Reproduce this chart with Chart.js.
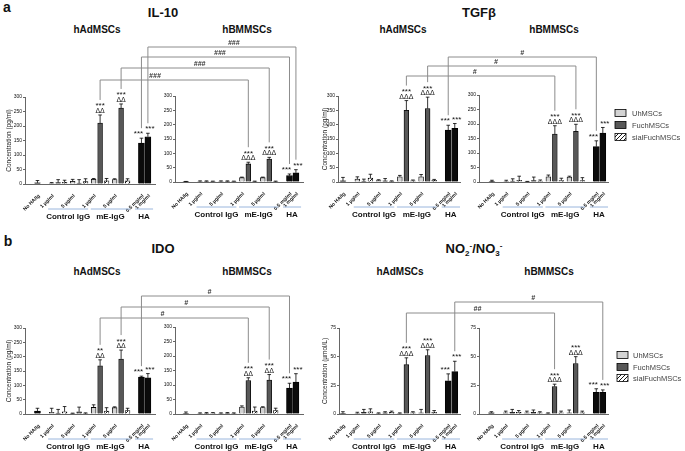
<!DOCTYPE html>
<html><head><meta charset="utf-8">
<script src="https://cdn.jsdelivr.net/npm/chart.js@4.4.1/dist/chart.umd.min.js"></script>
<style>
html,body{margin:0;padding:0;background:#fff;}
body{width:685px;height:451px;position:relative;overflow:hidden;font-family:"Liberation Sans",Arial,sans-serif;}
canvas.c{position:absolute;}
#ov{position:absolute;left:0;top:0;z-index:5;pointer-events:none;}
.t{position:absolute;font-weight:bold;color:#111;white-space:nowrap;transform:translate(-50%,-50%);line-height:1;}
</style></head><body>
<div class="t" style="left:7px;top:7px;font-size:14px">a</div>
<div class="t" style="left:8px;top:241px;font-size:14px">b</div>
<div class="t" style="left:163px;top:12px;font-size:13px">IL-10</div>
<div class="t" style="left:479px;top:12px;font-size:13px">TGFβ</div>
<div class="t" style="left:97px;top:30px;font-size:10px">hAdMSCs</div>
<div class="t" style="left:247px;top:30px;font-size:10px">hBMMSCs</div>
<div class="t" style="left:403px;top:30px;font-size:10px">hAdMSCs</div>
<div class="t" style="left:554px;top:30px;font-size:10px">hBMMSCs</div>
<div class="t" style="left:163px;top:248px;font-size:13px">IDO</div>
<div class="t" style="left:474px;top:250px;font-size:13px">NO<sub style="font-size:8px">2</sub><sup style="font-size:8px">-</sup>/NO<sub style="font-size:8px">3</sub><sup style="font-size:8px">-</sup></div>
<div class="t" style="left:97px;top:272px;font-size:10px">hAdMSCs</div>
<div class="t" style="left:247px;top:272px;font-size:10px">hBMMSCs</div>
<div class="t" style="left:400px;top:272px;font-size:10px">hAdMSCs</div>
<div class="t" style="left:549px;top:272px;font-size:10px">hBMMSCs</div>
<canvas id="ov" width="685" height="451"></canvas>
<script>
// ---------- DATA ----------
const tickLabels = ['No HA/Ig','1 µg/ml','5 µg/ml','1 µg/ml','5 µg/ml','0.5 mg/ml','1 mg/ml'];
const groupNames = ['Control IgG','mE-IgG','HA'];
const seriesNames = ['UhMSCs','FuchMSCs','sialFuchMSCs'];
// U/F/S order: [Control 1 µg/ml, Control 5 µg/ml, mE-IgG 1 µg/ml, mE-IgG 5 µg/ml]
// K (black) order: [No HA/Ig, HA 0.5 mg/ml, HA 1 mg/ml]
const il10Ad_U = [3, 9, 16, 15],      il10Ad_Ue = [2, 7, 3, 3];
const il10Ad_F = [5, 3, 210, 262],    il10Ad_Fe = [10, 12, 28, 14];
const il10Ad_S = [6, 8, 11, 11],      il10Ad_Se = [7, 10, 8, 7];
const il10Ad_K = [4, 141, 163],       il10Ad_Ke = [8, 17, 12];

const il10Bm_U = [2, 2, 15, 15],      il10Bm_Ue = [2, 2, 2, 2];
const il10Bm_F = [2, 2, 63, 80],      il10Bm_Fe = [2, 2, 6, 6];
const il10Bm_S = [2, 2, 2, 2],        il10Bm_Se = [1, 1, 1, 1];
const il10Bm_K = [1, 22, 32],         il10Bm_Ke = [1, 6, 11];

const tgfAd_U = [10, 5, 18, 18],      tgfAd_Ue = [8, 3, 5, 8];
const tgfAd_F = [3, 4, 250, 256],     tgfAd_Fe = [7, 8, 34, 40];
const tgfAd_S = [14, 2, 4, 6],        tgfAd_Se = [13, 2, 3, 3];
const tgfAd_K = [4, 181, 187],        tgfAd_Ke = [12, 17, 17];

const tgfBm_U = [2, 1, 18, 17],       tgfBm_Ue = [4, 1, 6, 3];
const tgfBm_F = [3, 5, 165, 175],     tgfBm_Fe = [8, 12, 29, 24];
const tgfBm_S = [6, 3, 5, 5],         tgfBm_Se = [14, 4, 8, 10];
const tgfBm_K = [1, 122, 169],        tgfBm_Ke = [5, 20, 19];

const idoAd_U = [6, 2, 23, 22],       idoAd_Ue = [14, 1, 9, 3];
const idoAd_F = [3, 8, 168, 192],     idoAd_Fe = [13, 16, 21, 31];
const idoAd_S = [8, 2, 10, 12],       idoAd_Se = [18, 2, 12, 8];
const idoAd_K = [10, 129, 126],       idoAd_Ke = [10, 3, 15];

const idoBm_U = [2, 2, 24, 22],       idoBm_Ue = [2, 2, 4, 3];
const idoBm_F = [2, 3, 115, 117],     idoBm_Fe = [3, 2, 10, 19];
const idoBm_S = [3, 2, 10, 12],       idoBm_Se = [2, 2, 14, 8];
const idoBm_K = [2, 89, 110],         idoBm_Ke = [5, 17, 29];

const noAd_U = [0.5, 0.5, 0.5, 1],    noAd_Ue = [1, 0.5, 0.5, 3];
const noAd_F = [1.5, 1, 43, 51],      noAd_Fe = [2.5, 1, 6, 5];
const noAd_S = [2, 1.5, 1, 1.5],      noAd_Se = [2.5, 1, 1, 1.5];
const noAd_K = [0.5, 29, 37],         noAd_Ke = [1.5, 6, 9];

const noBm_U = [1, 1, 0.5, 1],        noBm_Ue = [1.5, 1.5, 0.5, 2.5];
const noBm_F = [1.5, 1.5, 24, 44],    noBm_Fe = [2.5, 2, 2, 6];
const noBm_S = [1.5, 1, 1, 1],        noBm_Se = [1.5, 1, 1.5, 1.5];
const noBm_K = [1, 19, 19],           noBm_Ke = [1, 3, 2];

// ---------- LAYOUT ----------
const FONT = '"Liberation Sans", Arial, sans-serif';
const G0 = 2.2, GSTEP = 3.25, HA0 = 16.1;
const uPos = [0,1,2,3].map(g => G0 + g*GSTEP);
const fPos = uPos.map(v => v + 1);
const sPos = uPos.map(v => v + 2);
const kPos = [0, HA0, HA0 + 1];
const tickPos = [kPos[0], uPos[0], uPos[1], uPos[2], uPos[3], kPos[1], kPos[2]].map(v => v + 0.25);
const groupSpans = [[uPos[0]-0.55, sPos[1]+0.4], [uPos[2]-0.45, sPos[3]+0.4], [kPos[1]-1.0, kPos[2]+0.8]];

const M2 = (d) => [{ds:1,i:2,lines:['***',d]},{ds:1,i:3,lines:['***',d]},{ds:3,i:1,lines:['***'],dx:-3},{ds:3,i:2,lines:['***'],dx:2}];
const panels = [
 {L:25,R:155,T:97,B:184,xmin:-1.93,xmax:18.2,ymax:300,step:50,yW:20,yt:'Concentration (pg/ml)',
  U:il10Ad_U,Ue:il10Ad_Ue,F:il10Ad_F,Fe:il10Ad_Fe,S:il10Ad_S,Se:il10Ad_Se,K:il10Ad_K,Ke:il10Ad_Ke,marks:M2('ΔΔ')},
 {L:175,R:303,T:96,B:182,xmin:-1.7,xmax:18.2,ymax:300,step:50,yW:12,yt:'',
  U:il10Bm_U,Ue:il10Bm_Ue,F:il10Bm_F,Fe:il10Bm_Fe,S:il10Bm_S,Se:il10Bm_Se,K:il10Bm_K,Ke:il10Bm_Ke,marks:M2('ΔΔΔ')},
 {L:338,R:460,T:96,B:182,xmin:-0.76,xmax:17.9,ymax:300,step:50,yW:17,yt:'Concentration (pg/ml)',
  U:tgfAd_U,Ue:tgfAd_Ue,F:tgfAd_F,Fe:tgfAd_Fe,S:tgfAd_S,Se:tgfAd_Se,K:tgfAd_K,Ke:tgfAd_Ke,marks:M2('ΔΔΔ')},
 {L:479,R:608,T:95,B:182,xmin:-2.0,xmax:17.9,ymax:300,step:50,yW:12,yt:'',
  U:tgfBm_U,Ue:tgfBm_Ue,F:tgfBm_F,Fe:tgfBm_Fe,S:tgfBm_S,Se:tgfBm_Se,K:tgfBm_K,Ke:tgfBm_Ke,marks:M2('ΔΔΔ')},
 {L:25,R:155,T:328,B:414,xmin:-1.93,xmax:18.2,ymax:300,step:50,yW:20,yt:'Concentration (pg/ml)',
  U:idoAd_U,Ue:idoAd_Ue,F:idoAd_F,Fe:idoAd_Fe,S:idoAd_S,Se:idoAd_Se,K:idoAd_K,Ke:idoAd_Ke,
  marks:[{ds:1,i:2,lines:['**','ΔΔ']},{ds:1,i:3,lines:['***','ΔΔ']},{ds:3,i:1,lines:['***'],dx:-3},{ds:3,i:2,lines:['***'],dx:2}]},
 {L:175,R:303,T:327,B:414,xmin:-1.7,xmax:18.2,ymax:300,step:50,yW:12,yt:'',
  U:idoBm_U,Ue:idoBm_Ue,F:idoBm_F,Fe:idoBm_Fe,S:idoBm_S,Se:idoBm_Se,K:idoBm_K,Ke:idoBm_Ke,marks:M2('ΔΔ')},
 {L:339,R:460,T:328,B:414,xmin:-0.6,xmax:17.9,ymax:75,step:25,yW:18,yt:'Concentration (µmol/L)',
  U:noAd_U,Ue:noAd_Ue,F:noAd_F,Fe:noAd_Fe,S:noAd_S,Se:noAd_Se,K:noAd_K,Ke:noAd_Ke,marks:M2('ΔΔΔ')},
 {L:479,R:608,T:328,B:414,xmin:-1.9,xmax:17.9,ymax:75,step:25,yW:12,yt:'',
  U:noBm_U,Ue:noBm_Ue,F:noBm_F,Fe:noBm_Fe,S:noBm_S,Se:noBm_Se,K:noBm_K,Ke:noBm_Ke,marks:M2('ΔΔΔ')}
];

const brackets = [
 {a:0,b:1,key:'F1',y:80,label:'###',f:0.37},
 {a:0,b:1,key:'F5',y:68,label:'###',f:0.53},
 {a:0,b:1,key:'HA05',y:57,label:'###',f:0.53},
 {a:0,b:1,key:'HA1',y:47,label:'###',f:0.58},
 {a:2,b:3,key:'F1',y:76,label:'#',f:0.46},
 {a:2,b:3,key:'F5',y:66,label:'#',f:0.46},
 {a:2,b:3,key:'HA05',y:57,label:'#',f:0.5},
 {a:4,b:5,key:'F1',y:318,label:'#',f:0.42},
 {a:4,b:5,key:'F5',y:307,label:'#',f:0.44},
 {a:4,b:5,key:'HA05',y:296,label:'#',f:0.46},
 {a:6,b:7,key:'F1',y:313,label:'##',f:0.48},
 {a:6,b:7,key:'HA1',y:302,label:'#',f:0.53}
];
const keyMap = {F1:[1,2], F5:[1,3], HA05:[3,1], HA1:[3,2]};

function hatchCanvas(){
  const c = document.createElement('canvas'); c.width = 4; c.height = 4;
  const g = c.getContext('2d');
  g.fillStyle = '#fff'; g.fillRect(0,0,4,4);
  g.strokeStyle = '#000'; g.lineWidth = 0.9;
  g.beginPath(); g.moveTo(0,4); g.lineTo(4,0); g.moveTo(-1,1); g.lineTo(1,-1); g.moveTo(3,5); g.lineTo(5,3); g.stroke();
  return c;
}
const HATCH = hatchCanvas();
const COLORS = {U:'#d3d3d3', F:'#585858', K:'#0b0b0b'};

const decor = {
  id:'decor',
  afterDatasetsDraw(chart){
    const ctx = chart.ctx, xs = chart.scales.x, ys = chart.scales.y;
    ctx.save(); ctx.strokeStyle = '#000'; ctx.lineWidth = 0.8;
    chart.data.datasets.forEach(ds => {
      ds.data.forEach((pt, i) => {
        const x = xs.getPixelForValue(pt.x);
        const y0 = ys.getPixelForValue(pt.y), y1 = ys.getPixelForValue(pt.y + ds.errors[i]);
        ctx.beginPath(); ctx.moveTo(x, y0); ctx.lineTo(x, y1);
        ctx.moveTo(x - 1.8, y1); ctx.lineTo(x + 1.8, y1); ctx.stroke();
      });
    });
    ctx.restore();
  },
  afterDraw(chart, args, opts){
    const ctx = chart.ctx, xs = chart.scales.x, ys = chart.scales.y;
    ctx.save();
    ctx.fillStyle = '#111'; ctx.textAlign = 'center'; ctx.textBaseline = 'alphabetic';
    (opts.marks || []).forEach(m => {
      const ds = chart.data.datasets[m.ds], pt = ds.data[m.i];
      const x = xs.getPixelForValue(pt.x) + (m.dx || 0);
      const yTop = ys.getPixelForValue(pt.y + ds.errors[m.i]);
      if (m.lines.length === 2) {
        ctx.font = '7px ' + FONT; ctx.fillText(m.lines[1], x, yTop - 2);
        ctx.font = '8px ' + FONT; ctx.fillText(m.lines[0], x, yTop - 6.5);
      } else {
        ctx.font = '8px ' + FONT; ctx.fillText(m.lines[0], x, yTop - 1.8);
      }
    });
    const yb = chart.chartArea.bottom;
    groupSpans.forEach((sp, gi) => {
      const x1 = xs.getPixelForValue(sp[0]), x2 = xs.getPixelForValue(sp[1]);
      ctx.strokeStyle = '#9ab6dd'; ctx.lineWidth = 1;
      ctx.beginPath(); ctx.moveTo(x1, yb + 25); ctx.lineTo(x2, yb + 25); ctx.stroke();
      ctx.fillStyle = '#111'; ctx.font = 'bold 8px ' + FONT; ctx.textBaseline = 'middle';
      ctx.fillText(groupNames[gi], (x1 + x2) / 2, yb + 32.5);
    });
    ctx.restore();
  }
};

const xy = (pos, vals) => vals.map((v, i) => ({x: pos[i], y: v}));
const PADT = 26, PADR = 10, XH = 40;
const charts = panels.map(p => {
  const cv = document.createElement('canvas');
  cv.className = 'c';
  p.cx = p.L - p.yW; p.cy = p.T - PADT;
  const w = p.R - p.L + p.yW + PADR, h = p.B - p.T + PADT + XH;
  cv.width = w; cv.height = h;
  cv.style.left = p.cx + 'px'; cv.style.top = p.cy + 'px';
  cv.style.width = w + 'px'; cv.style.height = h + 'px';
  document.body.appendChild(cv);
  const pat = cv.getContext('2d').createPattern(HATCH, 'repeat');
  const base = {borderColor:'#000', borderWidth:0.8, grouped:false, barThickness:4.8};
  return new Chart(cv, {
    type:'bar',
    plugins:[decor],
    data:{datasets:[
      Object.assign({label:seriesNames[0], data:xy(uPos, p.U), errors:p.Ue, backgroundColor:COLORS.U}, base),
      Object.assign({label:seriesNames[1], data:xy(fPos, p.F), errors:p.Fe, backgroundColor:COLORS.F}, base),
      Object.assign({label:seriesNames[2], data:xy(sPos, p.S), errors:p.Se, backgroundColor:pat}, base),
      Object.assign({}, base, {label:'HA', data:xy(kPos, p.K), errors:p.Ke, backgroundColor:COLORS.K, barThickness:6})
    ]},
    options:{
      responsive:false, animation:false, devicePixelRatio:1,
      layout:{padding:{top:PADT, right:PADR, left:0, bottom:0}, autoPadding:false},
      plugins:{legend:{display:false}, tooltip:{enabled:false}, decor:{marks:p.marks}},
      scales:{
        x:{type:'linear', min:p.xmin, max:p.xmax, offset:false,
           grid:{display:false}, border:{display:true, color:'#666', width:1},
           afterBuildTicks:a => { a.ticks = tickPos.map(v => ({value:v})); },
           afterFit:s => { s.height = XH; s.paddingLeft = 0; s.paddingRight = 0; },
           ticks:{autoSkip:false, minRotation:45, maxRotation:45, padding:1,
                  font:{size:5, family:FONT, weight:'bold'}, color:'#111', callback:(v, i) => tickLabels[i]}},
        y:{min:0, max:p.ymax,
           ticks:{stepSize:p.step, font:{size:5, family:FONT}, color:'#111', padding:1},
           grid:{drawOnChartArea:false, drawTicks:true, tickLength:2, color:'#666'},
           border:{display:true, color:'#666', width:1},
           title:{display:!!p.yt, text:p.yt, font:{size:6.5, family:FONT}, padding:0, color:'#222'},
           afterFit:s => { s.width = p.yW; s.paddingTop = 0; s.paddingBottom = 0; }}
      }
    }
  });
});

// ---------- OVERLAY: brackets + legends ----------
const ov = document.getElementById('ov').getContext('2d');
function barPix(pi, key){
  const ch = charts[pi], p = panels[pi];
  const [d, i] = keyMap[key];
  const ds = ch.data.datasets[d], pt = ds.data[i];
  return {x: p.cx + ch.scales.x.getPixelForValue(pt.x),
          y: p.cy + ch.scales.y.getPixelForValue(pt.y + ds.errors[i]) - (d === 1 ? 15 : 10)};
}
ov.strokeStyle = '#8c8c8c'; ov.lineWidth = 1;
brackets.forEach(b => {
  const A = barPix(b.a, b.key), Bp = barPix(b.b, b.key);
  ov.beginPath(); ov.moveTo(A.x, A.y); ov.lineTo(A.x, b.y); ov.lineTo(Bp.x, b.y); ov.lineTo(Bp.x, Bp.y); ov.stroke();
  ov.fillStyle = '#333'; ov.font = 'italic bold 7px ' + FONT; ov.textAlign = 'center'; ov.textBaseline = 'alphabetic';
  ov.fillText(b.label, A.x + b.f * (Bp.x - A.x), b.y - 2);
});
function legend(x, ys, tx){
  const pat = ov.createPattern(HATCH, 'repeat');
  const fills = [COLORS.U, COLORS.F, pat];
  ys.forEach((y, i) => {
    ov.fillStyle = fills[i]; ov.fillRect(x, y - 3.5, 11, 7);
    ov.strokeStyle = '#000'; ov.lineWidth = 0.8; ov.strokeRect(x, y - 3.5, 11, 7);
    ov.fillStyle = '#444'; ov.font = '7.5px ' + FONT; ov.textAlign = 'left'; ov.textBaseline = 'middle';
    ov.fillText(seriesNames[i], tx, y + 0.5);
  });
}
legend(615, [113, 125, 137], 632);
legend(617, [355, 367, 378], 633);
</script>
</body></html>
